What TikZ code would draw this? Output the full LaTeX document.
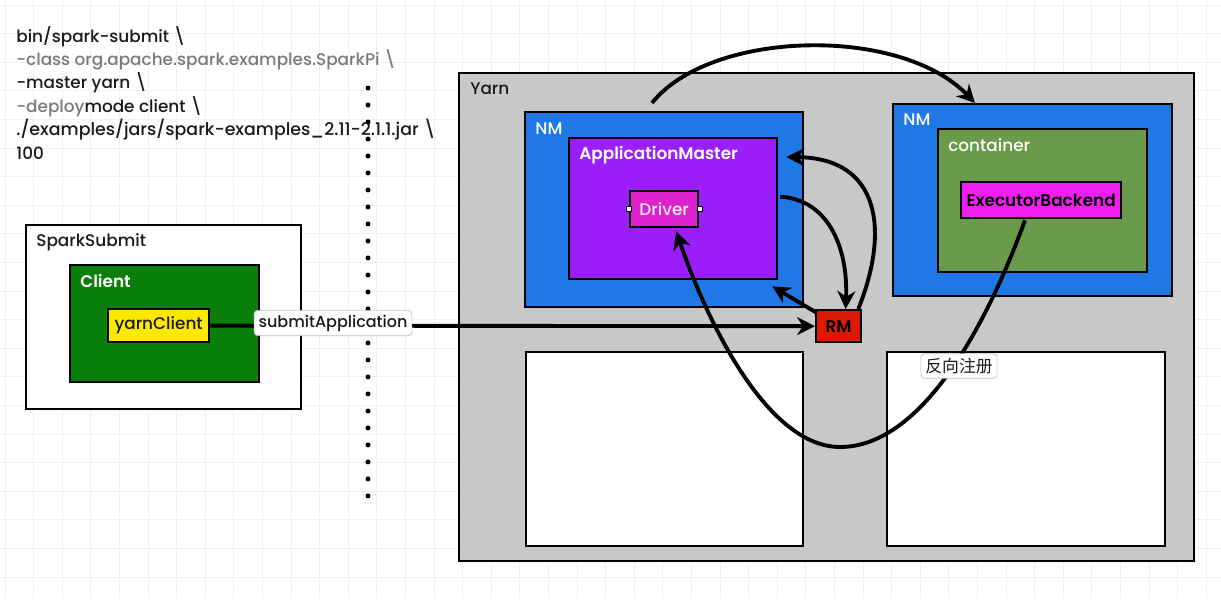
\documentclass[tikz,border=0pt]{standalone}
\usepackage{fontspec}
\setmainfont{Poppins}[UprightFont={* Medium}, BoldFont={* SemiBold}]
\newfontfamily\cjk{Noto Sans CJK SC}
\usetikzlibrary{arrows.meta,calc}
\definecolor{yarngray}{HTML}{C8C8C8}
\definecolor{nmblue}{HTML}{1F78E6}
\definecolor{ampurple}{HTML}{9B1FFA}
\definecolor{drvmag}{HTML}{DC22CC}
\definecolor{ebmag}{HTML}{F01EF0}
\definecolor{contgreen}{HTML}{6A9A4C}
\definecolor{clientgreen}{HTML}{0A800A}
\definecolor{ycyellow}{HTML}{FFE800}
\definecolor{rmred}{HTML}{D91A00}
\definecolor{cmdgray}{HTML}{7A7A7A}
\definecolor{cmdblack}{HTML}{1A1A1A}
\newcommand\bx[7]{\node[#2, anchor=north west, inner sep=0pt, minimum width={(#5-#3)*0.02cm}, minimum height={(#6-#4)*0.02cm}] (#1) at (#3,#4) {#7};}
\begin{document}
\begin{tikzpicture}[x=0.02cm,y=-0.02cm,
  font=\fontsize{9.6}{11}\selectfont,
  gridln/.style={draw=black!6, line width=0.4pt},
  box/.style={draw=black, line width=1.3pt},
  lbl/.style={anchor=base west, inner sep=0pt, text=white},
  cmd/.style={anchor=base west, inner sep=0pt, text=cmdblack},
  arr/.style={draw=black, line width=2.2pt, -{Stealth[length=0.36cm,width=0.36cm]}},
  tag/.style={draw=black!25, fill=white, rounded corners=2pt, inner sep=2.5pt, line width=0.4pt, text=cmdblack},
  handle/.style={draw=black, fill=white, line width=0.3pt, inner sep=0pt, minimum size=0.1cm}
]
\useasboundingbox (0,0) rectangle (1221,599);
\fill[white] (0,0) rectangle (1221,599);
\foreach \i in {0,...,43} \draw[gridln] ({\i*28.6+5},0) -- ({\i*28.6+5},599);
\foreach \j in {0,...,21} \draw[gridln] (0,{\j*28.6+5}) -- (1221,{\j*28.6+5});

% command text
\node[cmd] (c1) at (16,42) {bin/spark-submit \textbackslash};
\node[cmd] (c2) at (16,65) {\textcolor{cmdgray}{-class org.apache.spark.examples.SparkPi \textbackslash}};
\node[cmd] (c3) at (16,88) {-master yarn \textbackslash};
\node[cmd] (c4) at (16,112) {\textcolor{cmdgray}{-deploy}mode client \textbackslash};
\node[cmd, font=\fontsize{9.9}{11}\selectfont] (c5) at (16,135) {./examples/jars/spark-examples\_2.11-2.1.1.jar \textbackslash};
\node[cmd] (c6) at (16,159) {100};

% dotted separator
\coordinate (dtop) at (368,88);
\coordinate (dbot) at (368,496);
\draw[line width=0.1cm, line cap=round, dash pattern=on 0pt off 0.34cm] (dtop) -- (dbot);

% left side
\bx{ss}{box, fill=white}{25}{224}{300}{408}{}
\node[cmd] (ssl) at (36,246) {SparkSubmit};
\bx{cl}{box, fill=clientgreen}{69}{264}{258}{381}{}
\node[lbl] (cll) at (80,287) {\bfseries Client};
\bx{yc}{box, fill=ycyellow}{107}{308}{208}{341}{\textcolor{cmdblack}{yarnClient}}

% yarn
\bx{yarn}{box, fill=yarngray}{458}{72}{1193}{560}{}
\node[cmd] (yarnl) at (470,94) {Yarn};
\bx{nm1}{box, fill=nmblue}{524}{111}{802}{306}{}
\node[lbl] (nm1l) at (535,134) {NM};
\bx{am}{box, fill=ampurple}{568}{137}{776}{278}{}
\node[lbl] (aml) at (579,159) {\bfseries ApplicationMaster};
\bx{drv}{box, fill=drvmag}{629}{190}{697}{226}{\textcolor{white!90!drvmag}{Driver}}
\node[handle] (h1) at (drv.west) {};
\node[handle] (h2) at (drv.east) {};
\bx{nm2}{box, fill=nmblue}{892}{103}{1171}{295}{}
\node[lbl] (nm2l) at (903,125) {NM};
\bx{cont}{box, fill=contgreen}{937}{128}{1146}{271}{}
\node[lbl] (contl) at (948,151) {container};
\bx{eb}{box, fill=ebmag}{960}{181}{1120}{217}{\bfseries ExecutorBackend}
\bx{rm}{box, fill=rmred}{815}{309}{860}{341}{\bfseries RM}
\bx{w1}{box, fill=white}{525}{351}{802}{545}{}
\bx{w2}{box, fill=white}{886}{351}{1164}{545}{}

% connectors
\draw[arr] ($(nm1.north west)+(128,-8)$) .. controls (710,30) and (900,25) .. ($(nm2.north west)+(83,0)$);
\draw[arr] ($(am.east)+(2,-12)$) .. controls (830,200) and (848,250) .. ($(rm.north)+(7,0)$);
\draw[arr] ($(rm.north east)+(-4,0)$) .. controls (890,230) and (880,158) .. ($(am.north east)+(8,20)$);
\draw[arr] ($(rm.north west)+(2,4)$) -- ($(am.south east)+(-6,6)$);
\draw[arr] (yc.east) -- (rm.west);
\node[tag, font=\fontsize{9.1}{11}\selectfont] (sa) at (333,323) {submitApplication};
\draw[arr] ($(eb.south west)+(65,1)$) .. controls (985,330) and (920,447) .. (840,447) .. controls (770,447) and (710,330) .. ($(drv.south)+(12,3)$);
\node[tag, font=\cjk\fontsize{9.6}{11}\selectfont] (fx) at (959,366) {反向注册};
\end{tikzpicture}
\end{document}
